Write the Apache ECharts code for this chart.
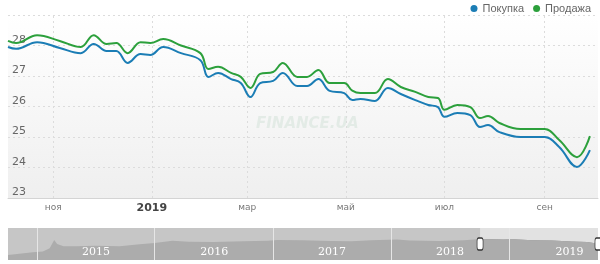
<!DOCTYPE html>
<html>
<head>
<meta charset="utf-8">
<script src="https://cdn.jsdelivr.net/npm/echarts@6/dist/echarts.min.js"></script>
<style>
  html, body { margin: 0; padding: 0; background: #fff; }
  #main { width: 600px; height: 264px; }
</style>
</head>
<body>
<div id="main"></div>
<script type="text/javascript">
// курс USD: покупка / продажа
var dates = ['2018-10-04','2018-10-09','2018-10-22','2018-11-05','2018-11-18','2018-11-26','2018-12-04','2018-12-10',
  '2018-12-17','2018-12-25','2018-12-31','2019-01-08','2019-01-19','2019-01-31','2019-02-05','2019-02-11',
  '2019-02-19','2019-02-25','2019-03-03','2019-03-09','2019-03-17','2019-03-23','2019-04-01','2019-04-07',
  '2019-04-14','2019-04-21','2019-04-30','2019-05-05','2019-05-10','2019-05-19','2019-05-27','2019-06-04',
  '2019-06-13','2019-06-21','2019-06-27','2019-07-01','2019-07-09','2019-07-17','2019-07-23','2019-07-28',
  '2019-08-04','2019-08-17','2019-09-01','2019-09-10','2019-09-21','2019-09-29'];
var buy = [27.95,27.89,28.11,27.92,27.75,28.05,27.82,27.82,
  27.43,27.72,27.69,27.95,27.75,27.52,26.97,27.10,
  26.90,26.77,26.31,26.77,26.84,27.10,26.67,26.67,
  26.90,26.51,26.44,26.21,26.25,26.18,26.61,26.41,
  26.21,26.05,25.98,25.66,25.79,25.72,25.33,25.39,
  25.16,25.00,25.00,24.67,24.02,24.57];
var sell = [28.15,28.08,28.34,28.15,27.95,28.34,28.05,28.08,
  27.75,28.11,28.08,28.21,28.00,27.75,27.23,27.30,
  27.10,26.97,26.61,27.07,27.13,27.43,26.97,26.97,
  27.20,26.77,26.77,26.52,26.44,26.44,26.90,26.64,
  26.48,26.31,26.28,25.89,26.05,25.98,25.62,25.69,
  25.46,25.26,25.26,24.90,24.34,25.03];

var monthTicks = ['2018-11-01','2019-01-01','2019-03-01','2019-05-01','2019-07-01','2019-09-01'];
var monthLabels = ['ноя','2019','мар','май','июл','сен'];

// навигатор
var navDates = ['2014-10-04','2014-11-15','2014-12-20','2015-01-20','2015-02-10','2015-02-24','2015-03-05','2015-03-25',
  '2015-05-01','2015-07-01','2015-09-15','2015-11-15','2016-01-01','2016-02-25','2016-04-15','2016-07-01',
  '2016-10-01','2016-12-15','2017-01-15','2017-04-01','2017-07-01','2017-09-01','2017-11-01','2018-01-20',
  '2018-03-01','2018-06-01','2018-08-15','2018-10-04','2018-12-15','2019-01-15','2019-03-15','2019-05-15',
  '2019-07-15','2019-09-01','2019-09-20','2019-10-04'];
var navValues = [12.7,14.0,15.2,16.0,19.0,26.8,23.0,21.0,
  20.8,21.3,21.0,22.8,24.0,26.0,25.2,24.8,
  25.5,26.0,26.8,26.6,25.8,25.5,26.4,27.2,
  26.2,25.8,26.6,27.6,27.3,27.4,26.6,26.2,
  25.3,24.8,24.0,24.4];
var yearStarts = ['2015-01-01','2016-01-01','2017-01-01','2018-01-01','2019-01-01'];
var yearMids = ['2015-07-03','2016-07-03','2017-07-03','2018-07-03','2019-07-08'];
var yearLabels = ['2015','2016','2017','2018','2019'];

var rangeStart = '2018-10-04';
var rangeEnd = '2019-10-04';
var navStart = '2014-10-04';

function zip(a, b) {
  return a.map(function (d, i) { return [d, b[i]]; });
}
var navSel = zip(navDates, navValues).filter(function (p) {
  return new Date(p[0]) >= new Date(rangeStart);
});

var blue = '#1b7db5';
var green = '#2ca03c';
var gridLine = { color: '#dcdcdc', width: 1, type: [2, 3] };

var myChart = echarts.init(document.getElementById('main'));

myChart.setOption({
  animation: false,
  legend: {
    data: ['Покупка', 'Продажа'],
    right: 4, top: -2,
    icon: 'circle', itemWidth: 7, itemHeight: 7, itemGap: 9,
    textStyle: { fontSize: 11, color: '#666', fontFamily: 'Liberation Sans' }
  },
  graphic: [{
    type: 'text', left: 256, top: 117, silent: true,
    style: { text: 'FINANCE.UA', font: 'italic bold 15px DejaVu Sans', fill: '#e3ebe6' }
  }],
  grid: [
    { left: 8, right: 2, top: 15, height: 183, show: true, borderWidth: 0,
      backgroundColor: new echarts.graphic.LinearGradient(0, 0, 0, 1, [
        { offset: 0, color: '#ffffff' }, { offset: 1, color: '#efefef' }]) },
    { left: 8, right: 2, top: 228, height: 32, show: true, borderWidth: 0, backgroundColor: '#c6c6c6' }
  ],
  xAxis: [
    { type: 'time', gridIndex: 0, min: rangeStart, max: rangeEnd,
      axisLine: { lineStyle: { color: '#d4d4d4' } }, axisTick: { show: false },
      axisLabel: { show: false }, splitLine: { show: false } },
    { type: 'time', gridIndex: 1, min: navStart, max: rangeEnd,
      axisLine: { show: false }, axisTick: { show: false },
      axisLabel: { show: false }, splitLine: { show: false } }
  ],
  yAxis: [
    { type: 'value', gridIndex: 0, min: 23, max: 29, interval: 1,
      axisLine: { show: false }, axisTick: { show: false },
      axisLabel: { inside: true, margin: 4, verticalAlign: 'bottom', showMaxLabel: false,
        color: '#666', fontSize: 11, fontFamily: 'DejaVu Sans' },
      splitLine: { lineStyle: gridLine } },
    { type: 'value', gridIndex: 1, min: 8, max: 38, show: false }
  ],
  series: [
    {
      name: 'Покупка', type: 'line', smooth: 0.4, showSymbol: false,
      xAxisIndex: 0, yAxisIndex: 0, z: 3,
      data: zip(dates, buy),
      lineStyle: { width: 2, color: blue }, itemStyle: { color: blue },
      markLine: {
        z: 1, silent: true, symbol: 'none', lineStyle: gridLine,
        label: {
          position: 'start', distance: 5,
          formatter: function (p) { return p.name === '2019' ? '{y|2019}' : '{m|' + p.name + '}'; },
          rich: {
            m: { fontSize: 9, color: '#777', fontFamily: 'DejaVu Sans' },
            y: { fontSize: 11, fontWeight: 'bold', color: '#444', fontFamily: 'DejaVu Sans' }
          }
        },
        data: monthTicks.map(function (d, i) { return { xAxis: d, name: monthLabels[i] }; })
      }
    },
    {
      name: 'Продажа', type: 'line', smooth: 0.4, showSymbol: false,
      xAxisIndex: 0, yAxisIndex: 0, z: 3,
      data: zip(dates, sell),
      lineStyle: { width: 2, color: green }, itemStyle: { color: green }
    },
    {
      name: 'nav', type: 'line', xAxisIndex: 1, yAxisIndex: 1, showSymbol: false, silent: true,
      data: zip(navDates, navValues),
      lineStyle: { width: 0 }, areaStyle: { color: '#acacac', origin: 'start', opacity: 1 },
      markArea: {
        silent: true, itemStyle: { color: '#e2e2e2' },
        data: [[{ xAxis: rangeStart }, { xAxis: rangeEnd }]]
      },
      markLine: {
        silent: true, symbol: 'none', label: { show: false },
        lineStyle: { color: '#e6e6e6', width: 1, type: 'solid' },
        data: yearStarts.map(function (d) { return { xAxis: d }; })
      },
      markPoint: {
        silent: true, symbol: 'rect', symbolSize: 1, itemStyle: { color: 'transparent' },
        label: { show: true, position: 'inside', color: '#fff', fontSize: 11, fontFamily: 'DejaVu Serif',
          formatter: function (p) { return p.name; } },
        data: yearMids.map(function (d, i) { return { coord: [d, 15.5], name: yearLabels[i] }; })
      }
    },
    {
      name: 'navSel', type: 'line', xAxisIndex: 1, yAxisIndex: 1, showSymbol: false, silent: true,
      data: navSel, z: 2,
      lineStyle: { width: 0 }, areaStyle: { color: '#8e8e8e', origin: 'start', opacity: 1 },
      markPoint: {
        silent: true, symbol: 'roundRect', symbolSize: [6, 12],
        itemStyle: { color: '#fff', borderColor: '#333', borderWidth: 1 },
        label: { show: false },
        data: [{ coord: [rangeStart, 23] }, { coord: [rangeEnd, 23] }]
      }
    }
  ]
});
</script>
</body>
</html>
